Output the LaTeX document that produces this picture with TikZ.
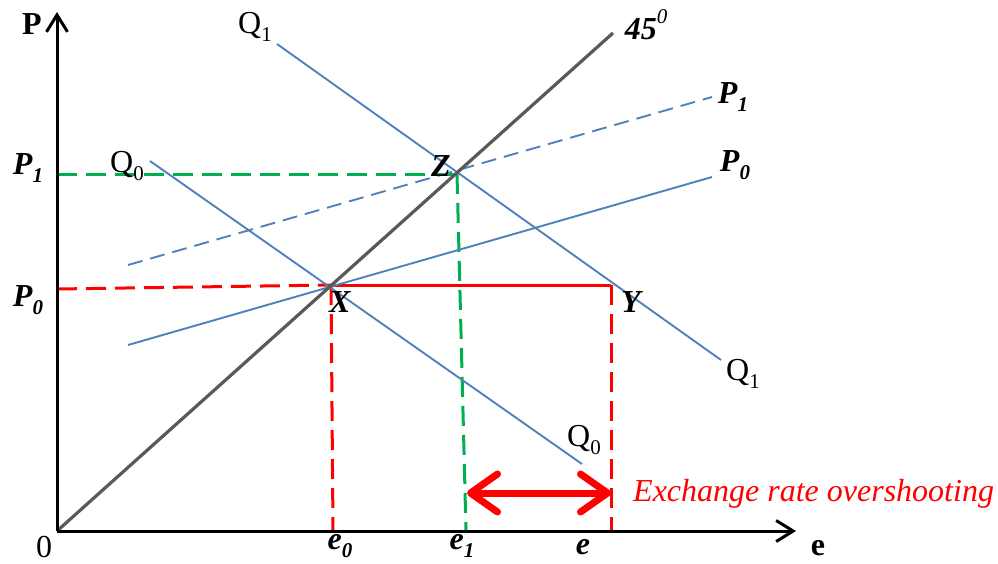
\documentclass[tikz,border=0pt]{standalone}
\usepackage{fontspec}
\setmainfont{Liberation Serif}
\usetikzlibrary{arrows.meta}
\newcommand{\mysub}[1]{\raisebox{-0.55ex}{\fontsize{21}{21}\selectfont #1}}
\newcommand{\mysup}[1]{\raisebox{1.1ex}{\fontsize{21}{21}\selectfont #1}}
\definecolor{cblue}{RGB}{79,129,189}
\definecolor{cgreen}{RGB}{0,176,80}
\definecolor{cred}{RGB}{255,0,0}
\definecolor{cgray}{RGB}{89,89,89}
\tikzset{
  lbl/.style={inner sep=0pt, font=\fontsize{32}{36}\selectfont},
  axisline/.style={line width=3pt, black, -{Straight Barb[length=17pt,width=21pt]}},
  bluesolid/.style={cblue, line width=1.9pt},
  bluedash/.style={cblue, line width=1.9pt, dash pattern=on 15pt off 8pt},
  reddash/.style={cred, line width=3pt, dash pattern=on 20pt off 9pt},
  greendash/.style={cgreen, line width=3pt, dash pattern=on 20pt off 9pt},
  diag/.style={cgray, line width=3.2pt},
}
\begin{document}
\begin{tikzpicture}[x=1pt,y=-1pt]
\useasboundingbox (0,0) rectangle (998,563);
% coordinates
\coordinate (O) at (57,531);
\coordinate (Ytop) at (57,12);
\coordinate (Xend) at (796,531);
\coordinate (D45) at (613,33);
\coordinate (Z) at (457,173);
\coordinate (X) at (331,285);
\coordinate (Y) at (611,285);
\coordinate (P1L) at (57,174);
\coordinate (P0L) at (57,289);
\coordinate (e0) at (333,531);
\coordinate (e1) at (466,531);
\coordinate (ee) at (611,531);
\coordinate (Zfoot) at (457,174);
\coordinate (Q1a) at (277,44);
\coordinate (Q1b) at (721,360);
\coordinate (Q0a) at (150,161);
\coordinate (Q0b) at (582,464);
\coordinate (P0a) at (128,345);
\coordinate (P0b) at (712,177);
\coordinate (P1a) at (128,265);
\coordinate (P1b) at (712,97);
\coordinate (OSa) at (467,493);
\coordinate (OSb) at (611,493);

% dashed guide lines
\draw[greendash] (P1L) -- (Zfoot);
\draw[greendash] (Zfoot) -- (e1);
\draw[reddash] (P0L) -- (X);
\draw[reddash] (X) -- (e0);
\draw[reddash] (Y) -- (ee);
\draw[cred, line width=3pt] (X) -- (Y);

% curves
\draw[bluedash] (P1a) -- (P1b);
\draw[bluesolid] (P0a) -- (P0b);
\draw[bluesolid] (Q1a) -- (Q1b);
\draw[bluesolid] (Q0a) -- (Q0b);
\draw[diag] (O) -- (D45);

% axes
\draw[axisline] (O) -- (Ytop);
\draw[axisline] (O) -- (Xend);

% overshooting arrow
\draw[cred, line width=7pt, {Straight Barb[round,length=27pt,width=38pt]}-{Straight Barb[round,length=27pt,width=38pt]}] (OSa) -- (OSb);

% labels
\node[lbl] (lP) at (32,24) {\textbf{P}};
\node[lbl] (le) at (818,548) {\textbf{e}};
\node[lbl] (l0) at (44,547) {0};
\node[lbl] (lQ1t) at (255,27) {Q\mysub{1}};
\node[lbl] (lQ1b) at (743,374) {Q\mysub{1}};
\node[lbl] (lQ0l) at (127,166) {Q\mysub{0}};
\node[lbl] (lQ0b) at (584,440) {Q\mysub{0}};
\node[lbl] (l45) at (646,25) {\textbf{\textit{45}}\mysup{\textit{0}}};
\node[lbl] (lP1r) at (733,97) {\textbf{\textit{P\mysub{1}}}};
\node[lbl] (lP0r) at (735,165) {\textbf{\textit{P\mysub{0}}}};
\node[lbl] (lP1l) at (28,168) {\textbf{\textit{P\mysub{1}}}};
\node[lbl] (lP0l) at (28,300) {\textbf{\textit{P\mysub{0}}}};
\node[lbl] (lZ) at (441,166) {\textbf{\textit{Z}}};
\node[lbl] (lX) at (340,302) {\textbf{\textit{X}}};
\node[lbl] (lY) at (632,302) {\textbf{\textit{Y}}};
\node[lbl] (le0) at (340,546) {\textbf{\textit{e\mysub{0}}}};
\node[lbl] (le1) at (462,546) {\textbf{\textit{e\mysub{1}}}};
\node[lbl] (lee) at (583,547) {\textbf{\textit{e}}};
\node[lbl, anchor=west, text=cred] (los) at (633,494) {\textit{Exchange rate overshooting}};
\end{tikzpicture}
\end{document}
